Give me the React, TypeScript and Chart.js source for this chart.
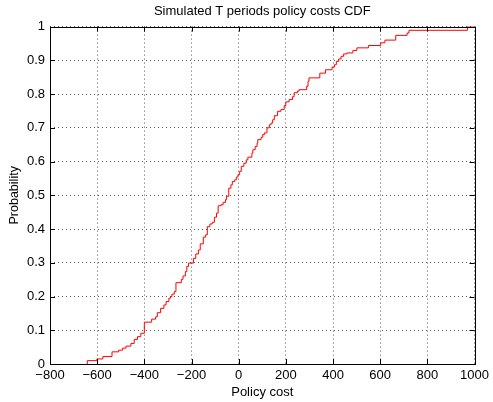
import React, { useEffect, useRef } from "react";
import { Chart, registerables } from "chart.js";

Chart.register(...registerables);

const costValues = [
  -642, -642, -601, -576, -537, -509, -492, -478, -457, -443, -429, -415, -400,
  -369, -352, -345, -331, -317, -308, -296, -289, -283, -273, -266, -243, -236,
  -226, -220, -213, -192, -182, -171, -163, -150, -140, -133, -122, -112, -103,
  -94, -87, -75, -66, -56, -52, -42, -33, -27, -17, -10, -3, 4, 11, 22, 32, 39,
  56, 60, 70, 78, 81, 95, 102, 109, 120, 130, 137, 144, 151, 165, 179, 193, 200,
  214, 228, 235, 249, 256, 288, 294, 298, 344, 368, 396, 406, 414, 424, 434, 445,
  459, 484, 501, 550, 602, 620, 666, 714, 722, 970, 1000,
];
const cdfValues = [
  0, 0.01, 0.015, 0.022, 0.036, 0.041, 0.047, 0.053, 0.061, 0.073, 0.081, 0.091,
  0.124, 0.133, 0.14, 0.152, 0.165, 0.175, 0.185, 0.195, 0.2, 0.207, 0.215, 0.241,
  0.251, 0.261, 0.274, 0.289, 0.299, 0.313, 0.326, 0.338, 0.356, 0.376, 0.383,
  0.407, 0.415, 0.42, 0.435, 0.447, 0.469, 0.472, 0.479, 0.487, 0.497, 0.521,
  0.531, 0.541, 0.546, 0.554, 0.561, 0.571, 0.586, 0.595, 0.605, 0.613, 0.625,
  0.635, 0.645, 0.655, 0.665, 0.672, 0.68, 0.685, 0.7, 0.709, 0.714, 0.724, 0.736,
  0.749, 0.754, 0.766, 0.777, 0.784, 0.792, 0.804, 0.809, 0.813, 0.823, 0.838,
  0.848, 0.862, 0.872, 0.88, 0.887, 0.897, 0.904, 0.912, 0.919, 0.922, 0.929,
  0.937, 0.944, 0.952, 0.96, 0.974, 0.981, 0.989, 1.0, 1.0,
];

const xTickValues = [-800, -600, -400, -200, 0, 200, 400, 600, 800, 1000];
const xTickLabels = ["\u2212800", "\u2212600", "\u2212400", "\u2212200", "0", "200", "400", "600", "800", "1000"];
const yTickValues = [0, 0.1, 0.2, 0.3, 0.4, 0.5, 0.6, 0.7, 0.8, 0.9, 1];
const yTickLabels = ["0", "0.1", "0.2", "0.3", "0.4", "0.5", "0.6", "0.7", "0.8", "0.9", "1"];

const FONT = "'Liberation Sans', Arial, Helvetica, sans-serif";

const framePlugin = {
  id: "matlabFrame",
  afterDatasetsDraw(chart: any) {
    const { ctx, chartArea } = chart;
    const xs = chart.scales.x;
    const ys = chart.scales.y;
    const { left, right, top, bottom } = chartArea;
    const tl = 5;
    ctx.save();
    ctx.strokeStyle = "#000";
    ctx.lineWidth = 1;
    ctx.beginPath();
    xTickValues.forEach((v) => {
      const px = Math.round(xs.getPixelForValue(v)) + 0.5;
      ctx.moveTo(px, bottom);
      ctx.lineTo(px, bottom - tl);
      ctx.moveTo(px, top);
      ctx.lineTo(px, top + tl);
    });
    yTickValues.forEach((v) => {
      const py = Math.round(ys.getPixelForValue(v)) + 0.5;
      ctx.moveTo(left, py);
      ctx.lineTo(left + tl, py);
      ctx.moveTo(right, py);
      ctx.lineTo(right - tl, py);
    });
    ctx.stroke();
    ctx.strokeRect(Math.round(left) + 0.5, Math.round(top) + 0.5, Math.round(right - left), Math.round(bottom - top));
    ctx.restore();
  },
};

export default function App() {
  const ref = useRef<HTMLCanvasElement | null>(null);
  useEffect(() => {
    if (!ref.current) return;
    const data = costValues.map((c, i) => ({ x: c, y: cdfValues[i] }));
    const chart = new Chart(ref.current, {
      type: "scatter",
      data: {
        datasets: [
          {
            data,
            showLine: true,
            stepped: "before",
            borderColor: "#ff0000",
            borderWidth: 1,
            pointRadius: 0,
            fill: false,
          } as any,
        ],
      },
      plugins: [framePlugin],
      options: {
        responsive: false,
        animation: false,
        events: [],
        layout: { padding: { top: 0, left: 0, right: 14, bottom: 0 } },
        plugins: {
          legend: { display: false },
          tooltip: { enabled: false },
          title: {
            display: true,
            text: "Simulated T periods policy costs CDF",
            color: "#000",
            fullSize: false,
            font: { family: FONT, size: 13, weight: "normal" },
            padding: { top: 4, bottom: 7 },
          },
        },
        scales: {
          x: {
            type: "linear",
            min: -800,
            max: 1000,
            afterFit: (s: any) => {
              s.height = 38;
            },
            afterBuildTicks: (s: any) => {
              s.ticks = xTickValues.map((v) => ({ value: v }));
            },
            ticks: {
              color: "#000",
              font: { family: FONT, size: 13 },
              padding: 4,
              maxRotation: 0,
              autoSkip: false,
              callback: (v: any) => {
                const i = xTickValues.indexOf(Number(v));
                return i >= 0 ? xTickLabels[i] : "";
              },
            },
            grid: { color: "rgba(0,0,0,0.65)", lineWidth: 1, drawTicks: false },
            border: { display: false, dash: [1, 3] },
            title: {
              display: true,
              text: "Policy cost",
              color: "#000",
              font: { family: FONT, size: 13 },
              padding: { top: 0, bottom: 2 },
            },
          },
          y: {
            type: "linear",
            min: 0,
            max: 1,
            afterFit: (s: any) => {
              s.width = 50;
            },
            afterBuildTicks: (s: any) => {
              s.ticks = yTickValues.map((v) => ({ value: v }));
            },
            ticks: {
              color: "#000",
              font: { family: FONT, size: 13 },
              padding: 5,
              autoSkip: false,
              callback: (v: any) => {
                const i = yTickValues.findIndex((t) => Math.abs(t - Number(v)) < 1e-9);
                return i >= 0 ? yTickLabels[i] : "";
              },
            },
            grid: { color: "rgba(0,0,0,0.65)", lineWidth: 1, drawTicks: false },
            border: { display: false, dash: [1, 3] },
            title: {
              display: true,
              text: "Probability",
              color: "#000",
              font: { family: FONT, size: 12.5 },
              padding: { top: 7, bottom: 0 },
            },
          },
        },
      } as any,
    });
    return () => chart.destroy();
  }, []);
  return (
    <div style={{ position: "fixed", left: 0, top: 0, width: 493, height: 402, background: "#fff" }}>
      <canvas ref={ref} width={493} height={402} style={{ width: 493, height: 402 }} />
    </div>
  );
}
